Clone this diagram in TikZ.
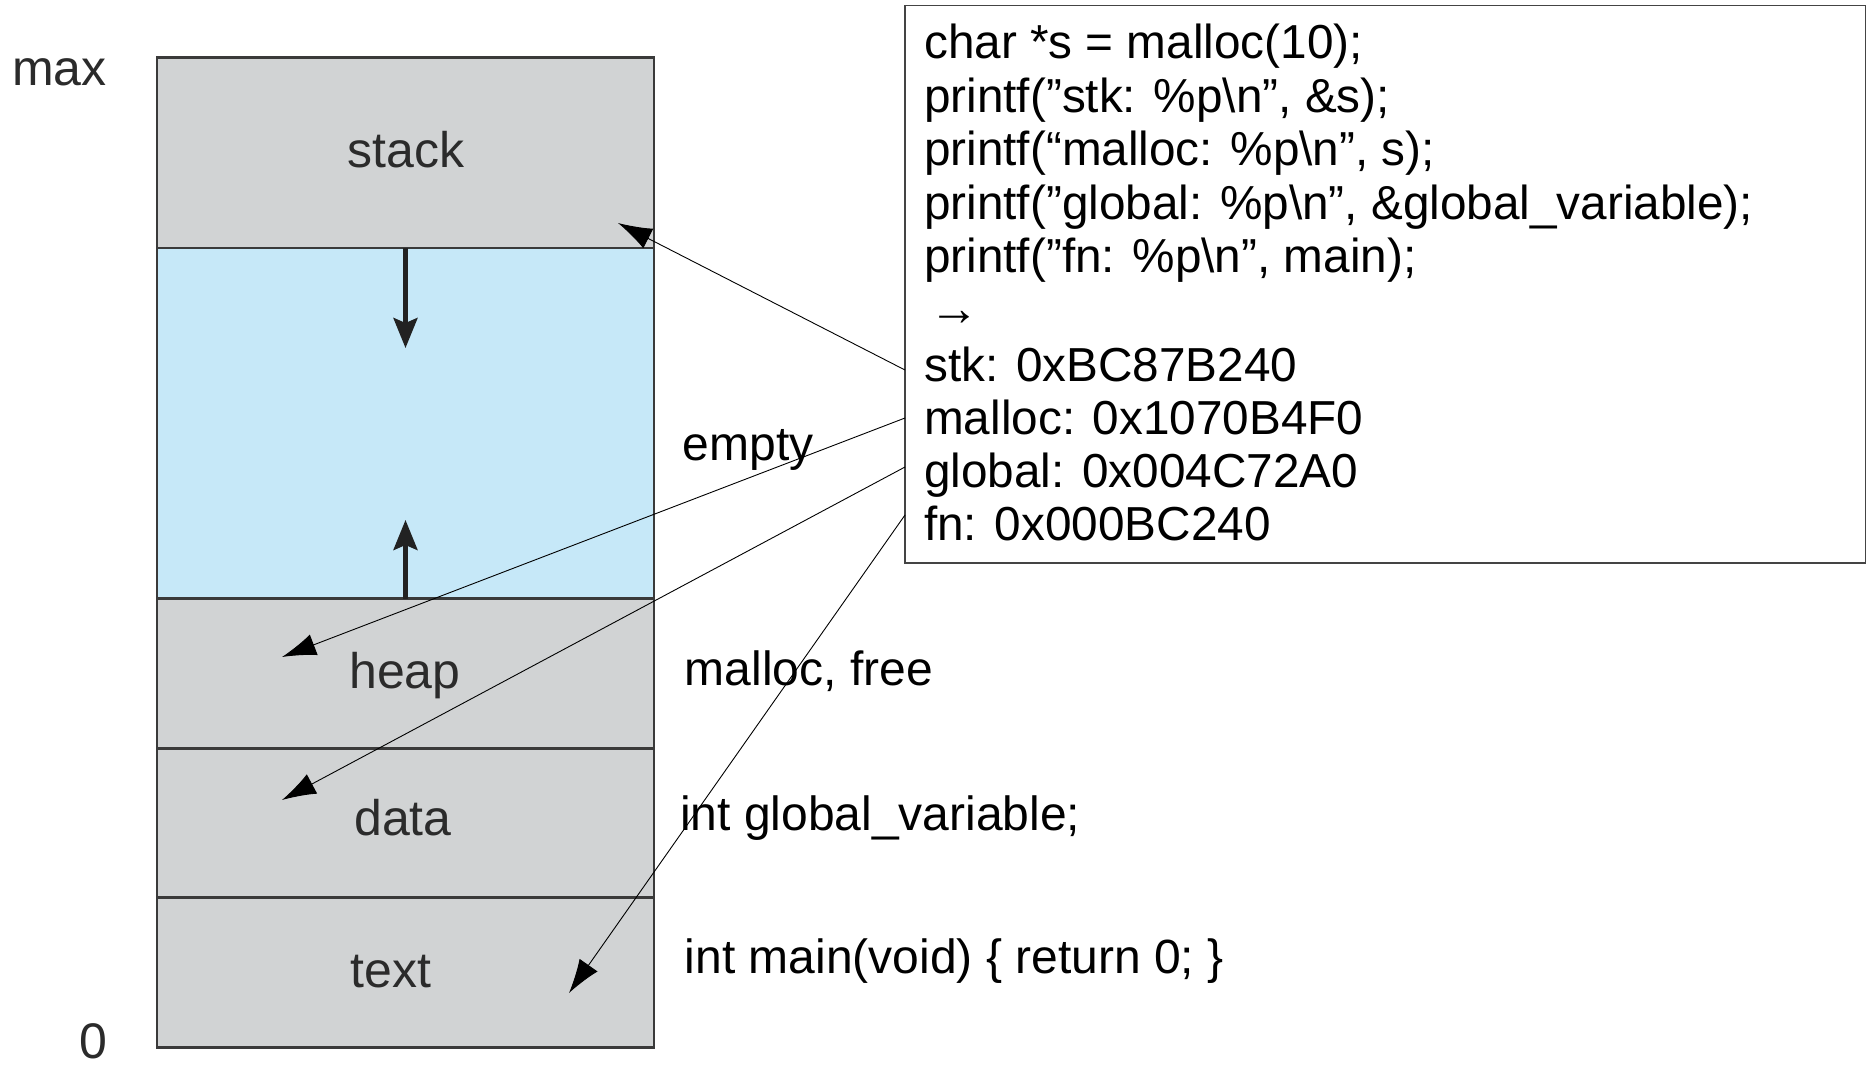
\documentclass[tikz,border=0pt]{standalone}
\usepackage{fontspec}
\setmainfont{Liberation Sans}
\usetikzlibrary{arrows.meta}
\definecolor{segc}{HTML}{D1D3D4}
\definecolor{emptyc}{HTML}{C6E8F8}
\definecolor{edgec}{HTML}{3A3A3A}
\definecolor{labc}{HTML}{2B2B2B}
\definecolor{arrc}{HTML}{222222}
\definecolor{boxc}{HTML}{444444}
\begin{document}
\begin{tikzpicture}[x=1pt,y=-1pt,
  seg/.style={draw=edgec, line width=2.5pt, fill=segc, minimum width=497pt, inner sep=0pt, outer sep=0pt},
  seglabel/.style={anchor=base, text=labc, font=\fontsize{50}{60}\selectfont, inner sep=0pt},
  note/.style={anchor=base west, text=black, font=\fontsize{48}{56}\selectfont, inner sep=0pt},
  codeline/.style={anchor=base west, text=black, font=\fontsize{47.7}{56}\selectfont, inner sep=0pt},
  ptr/.style={draw=black, line width=0.9pt, -{Latex[length=34pt,width=22pt]}},
  growarrow/.style={draw=arrc, line width=4.5pt, -{Stealth[length=30pt,width=24pt,inset=5pt]}},
]
\useasboundingbox[fill=white] (0,0) rectangle (1871,1067);

% memory layout
\node[seg, minimum height=190.5pt] (stack) at (405.5,152.75) {};
\node[seg, fill=emptyc, minimum height=350.5pt] (empty) at (405.5,423.25) {};
\node[seg, minimum height=150pt] (heap) at (405.5,673.5) {};
\node[seg, minimum height=149pt] (data) at (405.5,823) {};
\node[seg, minimum height=150pt] (textseg) at (405.5,972.5) {};

\node[seglabel] (lstack) at (406,168) {stack};
\node[seglabel] (lheap) at (405,688) {heap};
\node[seglabel] (ldata) at (403,835) {data};
\node[seglabel] (ltext) at (391,987) {text};
\node[seglabel, anchor=base west] (lmax) at (12,86) {max};
\node[seglabel] (lzero) at (93,1058) {0};

% growth arrows
\coordinate (downtip) at (405.5,348);
\coordinate (uptip) at (405.5,520);
\draw[growarrow] (empty.north) -- (downtip);
\draw[growarrow] (empty.south) -- (uptip);

% notes beside the segments
\node[note] (nempty) at (682.5,460) {empty};
\node[note] (nheap) at (684.5,685) {malloc, free};
\node[note] (ndata) at (680,830) {int global\_variable;};
\node[note] (ntext) at (684.5,973) {int main(void) \{ return 0; \}};

% code box
\node[draw=boxc, line width=1.5pt, minimum width=960.5pt, minimum height=557.5pt, inner sep=0pt] (codebox) at (1385.25,284.25) {};
\node[codeline] (c1) at (924,59) {char *s = malloc(10);};
\node[codeline] (c2) at (924,112.4) {printf(”stk: \%p\textbackslash n”, \&s);};
\node[codeline] (c3) at (924,165.8) {printf(“malloc: \%p\textbackslash n”, s);};
\node[codeline] (c4) at (924,219.2) {printf(”global: \%p\textbackslash n”, \&global\_variable);};
\node[codeline] (c5) at (924,272.6) {printf(”fn: \%p\textbackslash n”, main);};
\node[codeline, font=\fontsize{50}{56}\selectfont] (carr) at (929,326) {→};
\node[codeline] (cstk) at (924,381) {stk: 0xBC87B240};
\node[codeline] (cmal) at (924,434) {malloc: 0x1070B4F0};
\node[codeline] (cglo) at (924,487) {global: 0x004C72A0};
\node[codeline] (cfn) at (924,540.5) {fn: 0x000BC240};

% pointer connectors
\coordinate (sstk) at (905,370);
\coordinate (smal) at (905,418);
\coordinate (sglo) at (905,467);
\coordinate (sfn) at (905,515);
\coordinate (tstk) at (618,223);
\coordinate (tmal) at (282,657);
\coordinate (tglo) at (282,800);
\coordinate (tfn) at (569,993);
\draw[ptr] (sstk) -- (tstk);
\draw[ptr] (smal) -- (tmal);
\draw[ptr] (sglo) -- (tglo);
\draw[ptr] (sfn) -- (tfn);
\end{tikzpicture}
\end{document}
